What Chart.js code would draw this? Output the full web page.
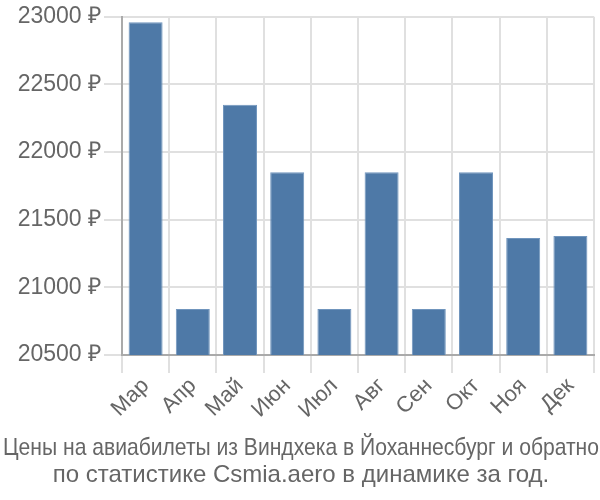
<!DOCTYPE html>
<html><head><meta charset="utf-8">
<script src="https://cdn.jsdelivr.net/npm/chart.js@4"></script>
<style>html,body{margin:0;padding:0;background:#fff}#w{width:600px;height:500px}</style>
</head><body><div id="w"><canvas id="c"></canvas></div>
<script>
const categories = ["Мар","Апр","Май","Июн","Июл","Авг","Сен","Окт","Ноя","Дек"];
const prices = [22960,20840,22350,21850,20840,21850,20840,21850,21365,21380];
const titleLines = ["Цены на авиабилеты из Виндхека в Йоханнесбург и обратно","по статистике Csmia.aero в динамике за год."];

const bottomTitle = {
  id: 'bottomTitle',
  afterDraw(chart) {
    const ctx = chart.ctx;
    ctx.save();
    ctx.font = '24px "Liberation Sans", Arial, sans-serif';
    ctx.fillStyle = '#666';
    ctx.textAlign = 'center';
    ctx.textBaseline = 'alphabetic';
    const baselines = [455, 482];
    titleLines.forEach((t, i) => {
      const w = ctx.measureText(t).width;
      const sx = Math.min(1, 596 / w);
      ctx.save();
      ctx.translate(301, baselines[i]);
      ctx.scale(sx, 1);
      ctx.fillText(t, 0, 0);
      ctx.restore();
    });
    ctx.restore();
  }
};

new Chart(document.getElementById('c'), {
  type: 'bar',
  data: { labels: categories, datasets: [{ data: prices, backgroundColor: '#4e79a7', borderColor: '#7095bd', borderWidth: 1 }] },
  plugins: [bottomTitle],
  options: {
    responsive: true, maintainAspectRatio: false, animation: false,
    layout: { padding: { left: 0, right: 6, top: 15, bottom: 0 } },
    plugins: { legend: { display: false }, tooltip: { enabled: false }, title: { display: false } },
    scales: {
      x: {
        afterFit: s => { s.height = 145; },
        grid: { color: '#e0e0e0', lineWidth: 2, tickLength: 18 },
        border: { color: '#aaa', width: 2 },
        ticks: { color: '#666', font: { family: '"Liberation Sans", sans-serif', size: 22 }, maxRotation: 45, minRotation: 45, padding: 0 }
      },
      y: {
        min: 20500, max: 23000,
        afterFit: s => { s.width = 122; },
        grid: { color: '#e0e0e0', lineWidth: 2, tickLength: 18 },
        border: { color: '#aaa', width: 2 },
        ticks: { stepSize: 500, color: '#666', font: { family: '"Liberation Sans", sans-serif', size: 23 }, padding: 3,
          callback: v => v + ' ₽' }
      }
    }
  }
});
</script></body></html>
